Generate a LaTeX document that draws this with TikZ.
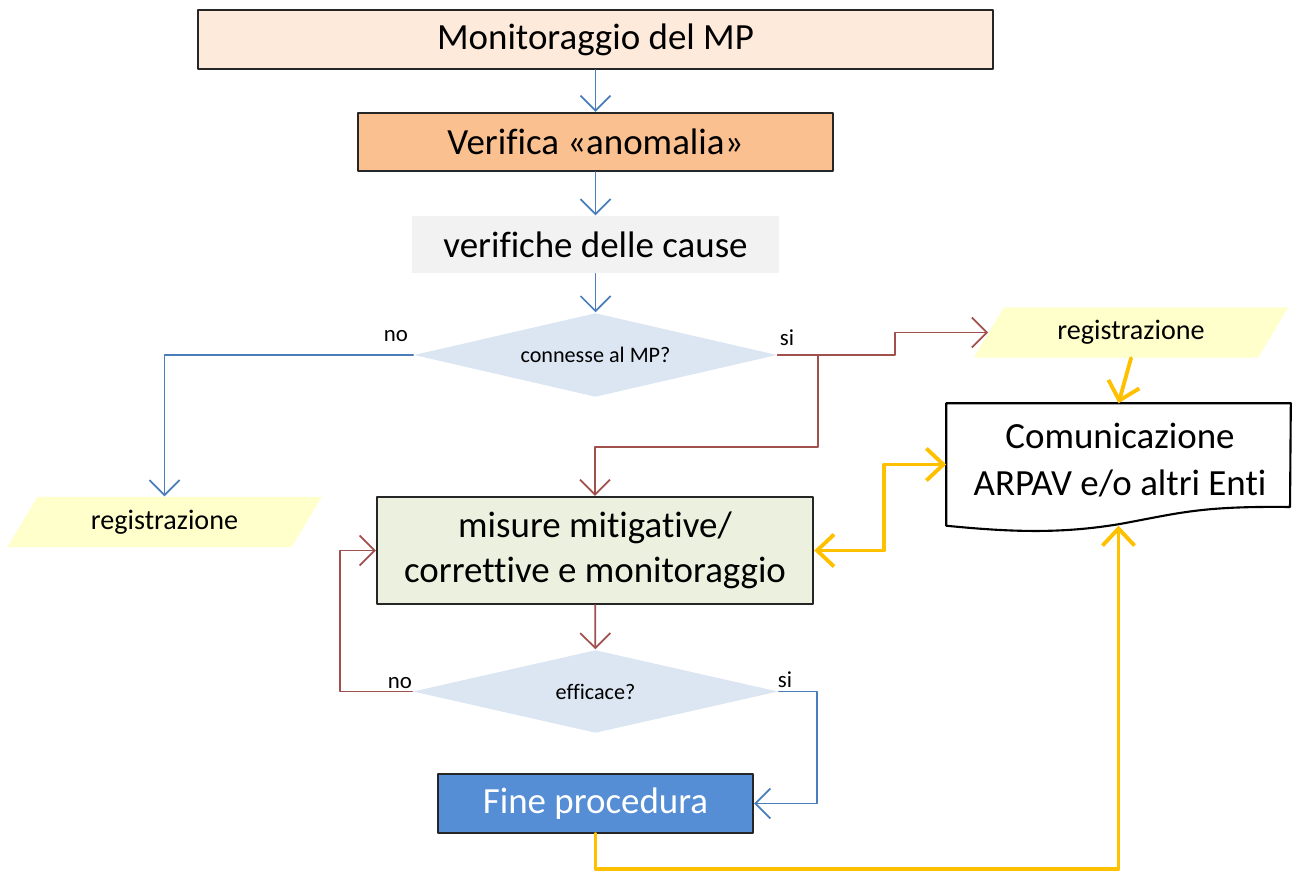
\documentclass[tikz,border=0pt]{standalone}
\usepackage{fontspec}
\setmainfont{Carlito}[Ligatures=CommonOff]
\usetikzlibrary{shapes.geometric,arrows.meta}
\definecolor{cPeach}{RGB}{253,234,218}
\definecolor{cOrange}{RGB}{250,192,144}
\definecolor{cGrey}{RGB}{242,242,242}
\definecolor{cDiam}{RGB}{220,230,242}
\definecolor{cGreen}{RGB}{235,241,222}
\definecolor{cFine}{RGB}{85,142,213}
\definecolor{cYell}{RGB}{255,255,204}
\definecolor{cBlueLn}{RGB}{74,126,187}
\definecolor{cRedLn}{RGB}{160,80,77}
\definecolor{cGold}{RGB}{255,192,0}
\begin{document}
\begin{tikzpicture}[x=0.01cm, y=-0.01cm, line join=round, line cap=round,
	>={Straight Barb[length=1.5mm,width=3mm]},
	big/.style={font=\fontsize{10.5}{12.6}\selectfont},
	box/.style={draw=black!85, line width=0.6pt, inner sep=0pt, big},
	plainbox/.style={inner sep=0pt, big},
	decision/.style={diamond, fill=cDiam, inner sep=0pt, aspect=4.3, font=\fontsize{6.3}{7.5}\selectfont},
	io/.style={trapezium, trapezium left angle=39, trapezium right angle=141, trapezium stretches body,
		fill=cYell, inner sep=0pt, minimum width=3.14cm, minimum height=0.5cm, font=\fontsize{8}{9.6}\selectfont},
	answer/.style={inner sep=0pt, font=\fontsize{6.5}{7.8}\selectfont},
	blueline/.style={draw=cBlueLn, line width=0.5pt},
	redline/.style={draw=cRedLn, line width=0.5pt},
	goldline/.style={draw=cGold, line width=1.1pt, >={Straight Barb[length=1.7mm,width=3.2mm]}}]
	\useasboundingbox (0,0) rectangle (1292,871);
	% blocchi
	\node[box, fill=cPeach, minimum width=7.95cm, minimum height=0.59cm] (mon) at (595.5,39.5) {Monitoraggio del MP};
	\node[box, fill=cOrange, minimum width=4.75cm, minimum height=0.58cm] (ver) at (595.5,142) {Verifica «anomalia»};
	\node[plainbox, fill=cGrey, minimum width=3.67cm, minimum height=0.57cm] (cause) at (595.5,244.5) {verifiche delle cause};
	\node[decision, minimum width=3.63cm, minimum height=0.84cm] (conn) at (595.5,355) {connesse al MP?};
	\node[io] (regL) at (164.5,522) {registrazione};
	\node[io] (regR) at (1131,332.5) {registrazione};
	\node[box, fill=cGreen, minimum width=4.36cm, minimum height=1.07cm, align=center] (mis) at (595,550.5) {misure mitigative/\\correttive e monitoraggio};
	\node[decision, minimum width=3.65cm, minimum height=0.83cm] (eff) at (595.5,691.5) {efficace?};
	\node[box, fill=cFine, text=white, minimum width=3.15cm, minimum height=0.59cm] (fine) at (595.5,803.5) {Fine procedura};
	\node[plainbox, minimum width=3.43cm, minimum height=1.21cm] (com) at (1118.5,464.5) {};
	\node[inner sep=0pt, align=center, font=\fontsize{10.5}{13.4}\selectfont] (comtxt) at (1120,460) {Comunicazione\\ARPAV e/o altri Enti};
	\draw[line width=0.6pt] (com.north west) -- (com.north east) -- (1290,507)
		.. controls (1200,506) and (1180,513) .. (1120,524)
		.. controls (1060,534) and (1010,532) .. (com.south west) -- cycle;
	% etichette
	\node[answer] (noA) at (396,336) {no};
	\node[answer] (siA) at (787,338) {si};
	\node[answer] (noB) at (400,683) {no};
	\node[answer] (siB) at (785,680) {si};
	% collegamenti
	\draw[blueline,->] (mon) -- (ver);
	\draw[blueline,->] (ver) -- (cause);
	\draw[blueline,->] (cause) -- (conn);
	\draw[blueline,->] (conn.west) -| (regL.north);
	\draw[redline,->] (conn.east) -- ++(117,0) |- (regR.west);
	\draw[redline,->] (conn.east) -- ++(40,0) -- ++(0,92) -| (mis.north);
	\draw[redline,->] (mis) -- (eff);
	\draw[redline,->] (eff.west) -- ++(-72,0) |- (mis.west);
	\draw[blueline,->] (eff.east) -- ++(38,0) |- (fine.east);
	\draw[goldline,<->] (mis.east) -- ++(70,0) |- (com.west);
	\draw[goldline,->] (regR.south) -- (com.north);
	\draw[goldline,->] (fine.south) -- ++(0,35) -| (com.south);
\end{tikzpicture}
\end{document}
